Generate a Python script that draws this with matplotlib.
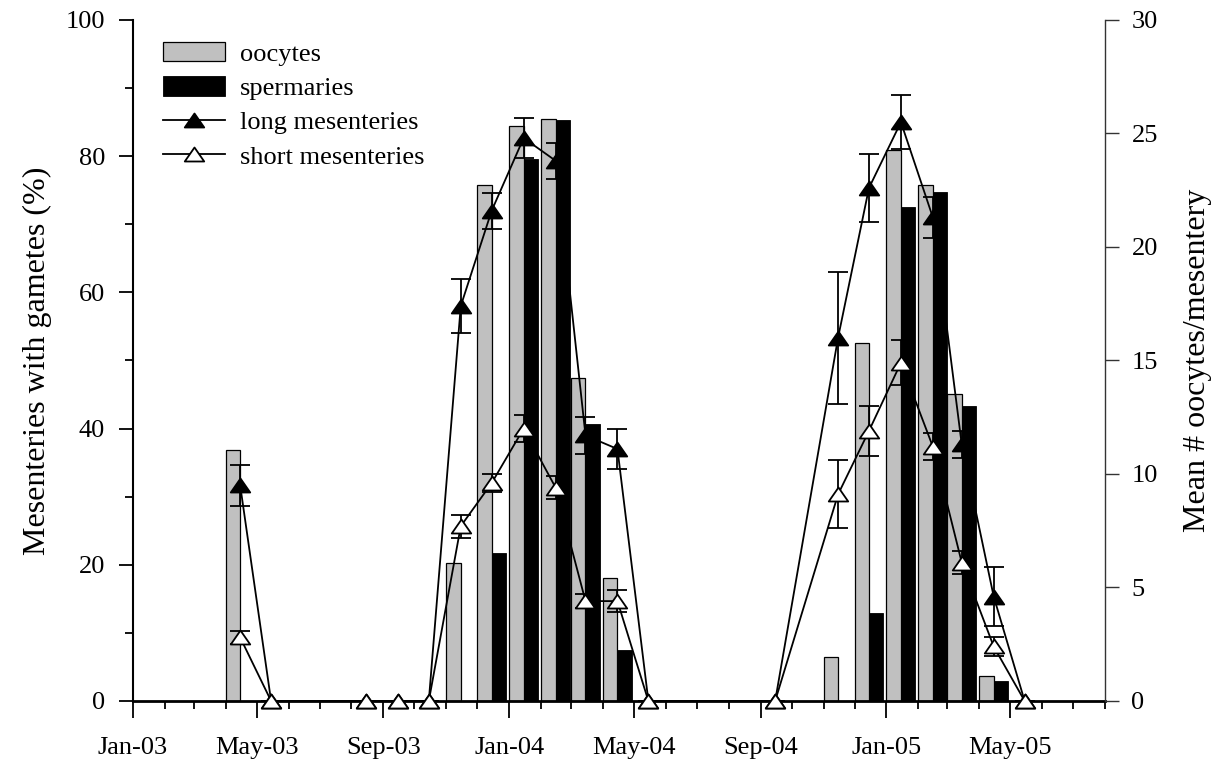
import datetime as dt

import matplotlib
matplotlib.use("Agg")
import matplotlib.pyplot as plt
import matplotlib.dates as mdates
from matplotlib.path import Path
from matplotlib.lines import Line2D
import numpy as np

plt.rcParams["font.family"] = ["Liberation Serif", "DejaVu Serif"]

# Sampling dates
sample_dates = [
    "2003-04-15", "2003-05-15", "2003-08-15", "2003-09-15", "2003-10-15",
    "2003-11-15", "2003-12-15", "2004-01-15", "2004-02-15", "2004-03-15",
    "2004-04-15", "2004-05-15", "2004-09-15", "2004-11-15", "2004-12-15",
    "2005-01-15", "2005-02-15", "2005-03-15", "2005-04-15", "2005-05-15",
]

# Percentage of mesenteries carrying gametes
oocytes_pct = [36.9, 0, 0, 0, 0, 20.2, 75.8, 84.5, 85.5, 47.5,
               18.0, 0, 0, 6.5, 52.6, 80.9, 75.8, 45.1, 3.7, 0]
spermaries_pct = [0, 0, 0, 0, 0, 0, 21.7, 79.6, 85.3, 40.7,
                  7.5, 0, 0, 0, 12.9, 72.6, 74.7, 43.3, 2.9, 0]

# Mean number of oocytes per mesentery (+/- SE)
long_mean = [9.5, 0, 0, 0, 0, 17.4, 21.6, 24.8, 23.8, 11.7,
             11.1, 0, 0, 16.0, 22.6, 25.5, 21.3, 11.3, 4.6, 0]
long_se = [0.9, 0, 0, 0, 0, 1.2, 0.8, 0.9, 0.8, 0.8,
           0.9, 0, 0, 2.9, 1.5, 1.2, 0.9, 0.6, 1.3, 0]
short_mean = [2.8, 0, 0, 0, 0, 7.7, 9.6, 12.0, 9.4, 4.4,
              4.4, 0, 0, 9.1, 11.9, 14.9, 11.2, 6.1, 2.4, 0]
short_se = [0.3, 0, 0, 0, 0, 0.5, 0.4, 0.6, 0.5, 0.3,
            0.5, 0, 0, 1.5, 1.1, 1.0, 0.6, 0.5, 0.4, 0]

x = mdates.date2num([dt.datetime.strptime(d, "%Y-%m-%d") for d in sample_dates])
bar_w = 14.0  # days

fig = plt.figure(figsize=(12.30, 7.63), dpi=100)
ax = fig.add_axes([0.1081, 0.0813, 0.7903, 0.8925])
ax2 = ax.twinx()

# Paired bars: oocytes to the left of the sampling date, spermaries to the right
b1 = ax.bar(x, oocytes_pct, width=-bar_w, align="edge", color="#c0c0c0",
            edgecolor="black", linewidth=0.9, label="oocytes")
b2 = ax.bar(x, spermaries_pct, width=bar_w, align="edge", color="black",
            edgecolor="black", linewidth=0.6, label="spermaries")

# Slightly flattened triangle markers
tri = Path([(0, 0.72), (-1, -0.72), (1, -0.72), (0, 0.72)],
           [Path.MOVETO, Path.LINETO, Path.LINETO, Path.CLOSEPOLY])

style = dict(color="black", lw=1.3, marker=tri, ms=14, mec="black", mew=1.3)
eb_long = ax2.errorbar(x, long_mean, yerr=long_se, mfc="black",
                       capsize=7.5, capthick=1.3, elinewidth=1.3,
                       zorder=3, **style)
eb_short = ax2.errorbar(x, short_mean, yerr=short_se, mfc="white",
                        capsize=7.5, capthick=1.3, elinewidth=1.3,
                        zorder=4, **style)
for eb in (eb_long, eb_short):
    for c in eb[1]:
        c.set_clip_on(False)
    eb[0].set_clip_on(False)

# Axis limits and ticks
ax.set_xlim(mdates.date2num(dt.datetime(2003, 1, 1)),
            mdates.date2num(dt.datetime(2005, 8, 1)))
ax.set_ylim(0, 100)
ax2.set_ylim(0, 30)

ax.xaxis.set_major_locator(mdates.MonthLocator(bymonth=[1, 5, 9]))
ax.xaxis.set_minor_locator(mdates.MonthLocator())
ax.xaxis.set_major_formatter(mdates.DateFormatter("%b-%y"))
ax.set_yticks(np.arange(0, 101, 20))
ax.set_yticks(np.arange(10, 100, 20), minor=True)
ax2.set_yticks(np.arange(0, 31, 5))

ax.tick_params(axis="x", which="major", direction="out", length=12, width=1.3,
               pad=14, labelsize=19)
ax.tick_params(axis="x", which="minor", direction="out", length=6, width=1.3)
ax.tick_params(axis="y", which="major", direction="out", length=10, width=1.3,
               pad=10, labelsize=19)
ax.tick_params(axis="y", which="minor", direction="out", length=6, width=1.3)
ax2.tick_params(axis="y", which="major", direction="out", length=10, width=1.0,
                pad=9, labelsize=19, color="#333333")

for s in ("top", "right"):
    ax.spines[s].set_visible(False)
ax.spines["left"].set_linewidth(1.5)
ax.spines["bottom"].set_linewidth(2.0)
for s in ("top", "left", "bottom"):
    ax2.spines[s].set_visible(False)
ax2.spines["right"].set_linewidth(1.0)
ax2.spines["right"].set_color("#333333")

ax.set_ylabel("Mesenteries with gametes (%)", fontsize=23, labelpad=10)
ax2.set_ylabel("Mean # oocytes/mesentery", fontsize=23, labelpad=18)

h_long = Line2D([], [], mfc="black", **style)
h_short = Line2D([], [], mfc="white", **style)
handles = [b1, b2, h_long, h_short]
labels = ["oocytes", "spermaries", "long mesenteries", "short mesenteries"]
leg = ax2.legend(handles, labels, loc="upper left", bbox_to_anchor=(0.031, 0.968),
                 frameon=False, fontsize=19, handlelength=2.35, handleheight=0.75,
                 handletextpad=0.55, labelspacing=0.4, borderpad=0, borderaxespad=0)

fig.savefig("out.png", dpi=100)
